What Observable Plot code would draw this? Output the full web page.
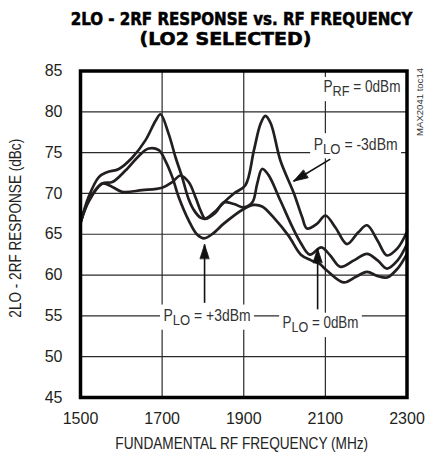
<!DOCTYPE html>
<html><head><meta charset="utf-8">
<script src="https://cdn.jsdelivr.net/npm/d3@7"></script>
<script src="https://cdn.jsdelivr.net/npm/@observablehq/plot@0.6"></script>
<style>
html,body{margin:0;padding:0;background:#fff;}
#wrap{width:426px;height:459px;position:relative;overflow:hidden;background:#fff;}
svg{display:block}
</style></head><body><div id="wrap"></div>
<script>
// ---- text ----
const titleLines = ["2LO - 2RF RESPONSE vs. RF FREQUENCY", "(LO2 SELECTED)"];
const xLabel = "FUNDAMENTAL RF FREQUENCY (MHz)";
const yLabel = "2LO - 2RF RESPONSE (dBc)";
const tocLabel = "MAX2041 toc14";
const xTicks = [1500, 1700, 1900, 2100, 2300];
const yTicks = [45, 50, 55, 60, 65, 70, 75, 80, 85];

// ---- series: P_LO = -3dBm ----
const freqM3 = [1500,1520,1545,1565,1594,1627,1659,1684,1696,1716,1733,1749,1765,1780,1795,1806,1830,1851,1876,1904,1925,1941,1953,1966,1990,2023,2043,2055,2080,2100,2125,2153,2180,2202,2228,2251,2277,2300];
const respM3 = [66.4,69.6,72.0,72.6,73.0,74.4,76.5,78.9,79.7,77.3,74.4,72.0,69.3,67.8,67.0,66.9,67.8,68.9,70.0,71.0,75.3,78.5,79.5,78.6,74.0,70.0,67.1,65.7,66.3,67.3,65.8,63.8,65.2,66.1,64.2,62.4,63.3,65.3];
// ---- series: P_LO = 0dBm ----
const freq0 = [1500,1520,1553,1578,1602,1651,1700,1725,1745,1765,1782,1795,1806,1830,1851,1876,1900,1921,1933,1945,1960,1990,2019,2039,2062,2090,2112,2137,2170,2202,2228,2251,2277,2300];
const resp0 = [66.4,69.1,71.2,70.8,70.2,70.4,70.7,71.4,72.2,71.4,69.5,67.8,66.9,67.6,68.9,68.7,68.3,68.9,71.2,73.0,72.3,69.1,65.9,64.0,62.5,63.4,62.4,61.0,61.8,62.6,61.8,60.8,61.8,63.8];
// ---- series: P_LO = +3dBm ----
const freqP3 = [1500,1520,1553,1578,1610,1643,1667,1692,1708,1725,1741,1765,1785,1803,1825,1851,1900,1925,1945,1974,2010,2040,2065,2085,2105,2145,2175,2202,2227,2251,2277,2300];
const respP3 = [66.4,69.0,71.2,71.4,72.8,74.6,75.5,75.3,74.0,72.0,69.5,66.7,65.0,64.5,65.1,66.3,68.1,68.6,68.4,67.0,64.8,62.5,61.8,61.4,60.5,59.1,59.8,60.4,59.9,59.7,60.8,62.6];

// ---- annotations ----
const labelText = ["P_RF = 0dBm", "P_LO = -3dBm", "P_LO = +3dBm", "P_LO = 0dBm"];
const labelFreq = [2284, 2277, 1810, 2088];
const labelResp = [83.0, 76.0, 55.0, 54.1];
const labelAnchor = ["end", "end", "middle", "middle"];
const labelWidth = [77, 84, 87, 76];
const arrowFromFreq = [2112, 1804, 2081];
const arrowFromResp = [74.2, 56.6, 55.8];
const arrowToFreq = [2022, 1804, 2081];
const arrowToResp = [71.5, 63.75, 63.25];
const arrowAngle = [239, 0, 0];

const data = [
  ...freqM3.map((f, i) => ({series: "-3dBm", freq: f, resp: respM3[i]})),
  ...freq0.map((f, i) => ({series: "0dBm", freq: f, resp: resp0[i]})),
  ...freqP3.map((f, i) => ({series: "+3dBm", freq: f, resp: respP3[i]}))
];
const labels = labelText.map((t, i) => ({t, x: labelFreq[i], y: labelResp[i], a: labelAnchor[i]}));
const arrows = arrowAngle.map((a, i) => ({x1: arrowFromFreq[i], y1: arrowFromResp[i], x2: arrowToFreq[i], y2: arrowToResp[i], a}));

const FONT = "'Liberation Sans', Arial, sans-serif";
const ink = "#231f20";
const wrap = document.getElementById("wrap");
const ns = "http://www.w3.org/2000/svg";

// horizontally squeeze a text element about its anchor so its width equals target
function fit(t, target, anchor) {
  const bb = t.getBBox();
  if (!bb.width) return;
  const sx = target / bb.width;
  const ax = anchor === "start" ? bb.x : anchor === "end" ? bb.x + bb.width : bb.x + bb.width / 2;
  const tr = t.getAttribute("transform") || "";
  t.setAttribute("transform", `${tr} translate(${ax},0) scale(${sx},1) translate(${-ax},0)`);
}

// title
const tsvg = d3.create("svg").attr("width", 426).attr("height", 54);
wrap.append(tsvg.node());
const tpos = [{x: 241.5, y: 25, len: 343}, {x: 225.5, y: 44.9, len: 172}];
titleLines.forEach((s, i) => {
  const t = tsvg.append("text").attr("x", tpos[i].x).attr("y", tpos[i].y)
    .attr("text-anchor", "middle")
    .attr("font-family", "'DejaVu Sans Condensed', 'DejaVu Sans', sans-serif")
    .attr("font-stretch", "condensed")
    .attr("font-weight", "bold").attr("font-size", 17)
    .attr("stroke", "#000").attr("stroke-width", 0.5)
    .attr("fill", "#000").text(s).node();
  fit(t, tpos[i].len, "middle");
});

const headShape = {draw(context, l, r) { context.moveTo(-r, 0); context.lineTo(0, -l); context.lineTo(r, 0); context.closePath(); }};

const chart = Plot.plot({
  width: 426, height: 405,
  marginTop: 16.5, marginBottom: 62, marginLeft: 80, marginRight: 19.5,
  style: {fontFamily: FONT, fontSize: "16px", color: ink, background: "#fff"},
  x: {domain: [1500, 2300], ticks: xTicks, tickSize: 0, tickPadding: 15, tickFormat: d => String(d), label: null},
  y: {domain: [45, 85], ticks: yTicks, tickSize: 0, tickPadding: 18, tickFormat: d => String(d), label: null},
  marks: [
    Plot.ruleX(xTicks, {stroke: "#2a2a2a", strokeWidth: 1.2}),
    Plot.ruleY(yTicks, {stroke: "#2a2a2a", strokeWidth: 1.2}),
    Plot.line(data, {x: "freq", y: "resp", z: "series", curve: "catmull-rom", stroke: ink, strokeWidth: 2.7}),
    Plot.link(arrows, {x1: "x1", y1: "y1", x2: "x2", y2: "y2", stroke: "#111", strokeWidth: 1.6}),
    Plot.vector(arrows, {x: "x2", y: "y2", rotate: "a", length: 14, r: 4.5, anchor: "end", shape: headShape, fill: "#111", stroke: "#111", strokeWidth: 0.8}),
    Plot.text(labels.filter(d => d.a === "end"), {x: "x", y: "y", text: "t", textAnchor: "end", fontSize: 16, fill: "#333"}),
    Plot.text(labels.filter(d => d.a === "middle"), {x: "x", y: "y", text: "t", textAnchor: "middle", fontSize: 16, fill: "#333"}),
    Plot.text([xLabel], {frameAnchor: "bottom", text: d => d, dy: 51, dx: -2, textAnchor: "middle", fontSize: 16, fill: "#222"}),
    Plot.text([yLabel], {frameAnchor: "left", text: d => d, dx: -64.5, dy: -6, rotate: -90, textAnchor: "middle", fontSize: 16, fill: "#222"}),
    Plot.text([tocLabel], {frameAnchor: "top-right", text: d => d, dx: 9, dy: -3, rotate: -90, textAnchor: "end", fontSize: 9.5, fill: "#333"}),
    Plot.frame({stroke: "#000", strokeWidth: 3.5})
  ]
});
wrap.append(chart);

// fitted widths for the condensed-looking texts
const fitLen = new Map([[xLabel, [253, "middle"]], [yLabel, [179, "middle"]], [tocLabel, [68, "end"]]]);
labelText.forEach((s, i) => fitLen.set(s, [labelWidth[i], labelAnchor[i]]));

chart.querySelectorAll("text").forEach(t => {
  const s = t.textContent;
  if (!fitLen.has(s)) return;
  const m = s.match(/^P_(\w+)(.*)$/);
  if (m) {
    t.textContent = "";
    const a = document.createElementNS(ns, "tspan"); a.textContent = "P";
    const b = document.createElementNS(ns, "tspan"); b.textContent = m[1]; b.setAttribute("dy", "4"); b.setAttribute("font-size", "15");
    const c = document.createElementNS(ns, "tspan"); c.textContent = m[2]; c.setAttribute("dy", "-4");
    t.append(a, b, c);
  }
  const [len, anchor] = fitLen.get(s);
  fit(t, len, anchor);
  if (m) {
    const bb = t.getBBox();
    const r = document.createElementNS(ns, "rect");
    r.setAttribute("x", bb.x - 4); r.setAttribute("y", bb.y - 1.5);
    r.setAttribute("width", bb.width + 8); r.setAttribute("height", bb.height + 3);
    r.setAttribute("fill", "#fff");
    if (t.getAttribute("transform")) r.setAttribute("transform", t.getAttribute("transform"));
    t.parentNode.insertBefore(r, t);
  }
});
</script></body></html>
